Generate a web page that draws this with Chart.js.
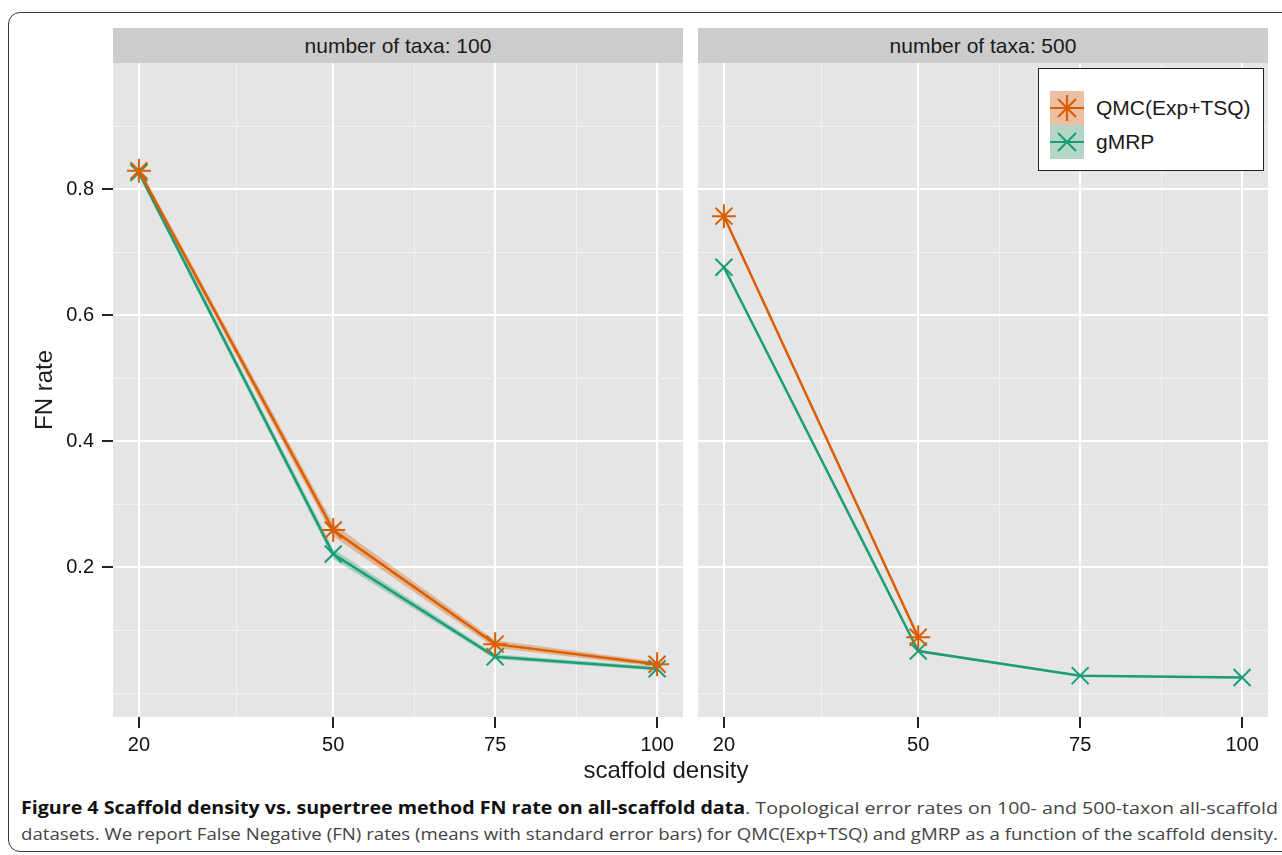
<!DOCTYPE html>
<html>
<head>
<meta charset="utf-8">
<script src="https://cdn.jsdelivr.net/npm/chart.js@4.4.1/dist/chart.umd.min.js"></script>
<style>
  body { margin: 0; width: 1282px; height: 855px; overflow: hidden; position: relative; background: #fff;
         font-family: "Liberation Sans", Arial, sans-serif; color: #1a1a1a; }
  .frame { position: absolute; left: 8px; top: 12px; width: 1300px; height: 838px;
           border: 1.5px solid #3a3a3a; border-radius: 12px; }
  .strip { position: absolute; top: 28px; height: 35px; width: 570px; background: #cccccc;
           font-size: 21px; line-height: 35px; text-align: center; }
  canvas { position: absolute; }
  .ytitle { position: absolute; left: -56px; top: 375px; width: 200px; height: 30px; line-height: 30px;
            text-align: center; font-size: 24px; transform: rotate(-90deg); }
  .xtitle { position: absolute; left: 566px; top: 758px; width: 200px; line-height: 24px;
            text-align: center; font-size: 24px; }
  .legend { position: absolute; left: 1038px; top: 68px; width: 224px; height: 101px;
            border: 1.5px solid #222; background: #fff; }
  .legend .row { position: absolute; left: 11px; height: 34px; font-size: 21px; line-height: 34px; white-space: nowrap; }
  .legend svg { position: absolute; left: 0; top: 0; }
  .legend span { position: absolute; left: 46px; top: 0; }
  .caption { position: absolute; left: 21px; font-family: "Open Sans", sans-serif; font-size: 17px;
             color: #444; white-space: nowrap; transform-origin: 0 0; }
  .caption b { color: #111; }
</style>
</head>
<body>
<div class="frame"></div>

<div class="strip" style="left:113px">number of taxa: 100</div>
<div class="strip" style="left:698px">number of taxa: 500</div>

<canvas id="left" width="683" height="713" style="left:0;top:47px"></canvas>
<canvas id="right" width="570" height="713" style="left:698px;top:47px"></canvas>

<div class="legend">
  <div class="row" style="top:22px">
    <svg width="34" height="34" viewBox="0 0 34 34">
      <rect width="34" height="34" fill="#ecbfa4"/>
      <g stroke="#d95f02" stroke-width="2.2">
        <line x1="0" y1="17" x2="34" y2="17"/>
        <line x1="17" y1="4" x2="17" y2="30"/>
        <line x1="8" y1="8" x2="26" y2="26"/>
        <line x1="8" y1="26" x2="26" y2="8"/>
      </g>
    </svg>
    <span>QMC(Exp+TSQ)</span>
  </div>
  <div class="row" style="top:56px">
    <svg width="34" height="34" viewBox="0 0 34 34">
      <rect width="34" height="34" fill="#b3d6c7"/>
      <g stroke="#1b9e77" stroke-width="2.2">
        <line x1="0" y1="17" x2="34" y2="17"/>
        <line x1="8" y1="8" x2="26" y2="26"/>
        <line x1="8" y1="26" x2="26" y2="8"/>
      </g>
    </svg>
    <span>gMRP</span>
  </div>
</div>

<div class="ytitle">FN rate</div>
<div class="xtitle">scaffold density</div>

<div class="caption" id="cap1" style="top:796px"><b>Figure 4 Scaffold density vs. supertree method FN rate on all-scaffold data</b>. Topological error rates on 100- and 500-taxon all-scaffold</div>
<div class="caption" id="cap2" style="top:822px">datasets. We report False Negative (FN) rates (means with standard error bars) for QMC(Exp+TSQ) and gMRP as a function of the scaffold density.</div>

<script>
// values
const densities = [20, 50, 75, 100];

const qmc100    = [0.829, 0.259, 0.078, 0.046];
const qmc100Se  = [0.006, 0.010, 0.006, 0.004];
const gmrp100   = [0.826, 0.221, 0.058, 0.039];
const gmrp100Se = [0.005, 0.008, 0.004, 0.003];

const qmc500    = [0.757, 0.089, null, null];
const qmc500Se  = [0.003, 0.003, null, null];
const gmrp500   = [0.676, 0.067, 0.028, 0.025];
const gmrp500Se = [0.003, 0.002, 0.0015, 0.0015];

const xMajor = [20, 50, 75, 100];
const xMinor = [35, 62.5, 87.5];
const yMajor = [0.2, 0.4, 0.6, 0.8];
const yMinor = [0, 0.1, 0.3, 0.5, 0.7, 0.9];

const ORANGE = "#d95f02";
const GREEN = "#1b9e77";
const FONT = "'Liberation Sans', Arial, sans-serif";

const panelBg = {
  id: "panelBg",
  beforeDraw(chart) {
    const { ctx, chartArea: a } = chart;
    ctx.save();
    ctx.fillStyle = "#e5e5e5";
    ctx.fillRect(a.left, a.top, a.right - a.left, a.bottom - a.top);
    ctx.restore();
  },
};

const pts = (ys, off, sign) =>
  densities.map((x, i) => ({ x, y: ys[i] == null ? null : ys[i] + (off ? sign * off[i] : 0) }));

function ribbon(ys, se, fillColor) {
  return [
    { data: pts(ys, se, 1), fill: "+1", backgroundColor: fillColor, borderWidth: 0, pointRadius: 0, order: 10 },
    { data: pts(ys, se, -1), fill: false, borderWidth: 0, pointRadius: 0, order: 10 },
  ];
}

function line(ys, color, style, order) {
  return {
    data: pts(ys), borderColor: color, borderWidth: 2.5, fill: false,
    pointStyle: style, pointRadius: 12, pointBorderWidth: 2, pointBorderColor: color,
    pointBackgroundColor: color, spanGaps: false, order,
  };
}

function makePanel(id, qmc, qmcSe, gmrp, gmrpSe, showY) {
  const isMajorX = v => xMajor.includes(v);
  const isMajorY = v => yMajor.includes(v);
  return new Chart(document.getElementById(id), {
    type: "line",
    data: {
      datasets: [
        ...ribbon(qmc, qmcSe, "rgba(217,95,2,0.35)"),
        ...ribbon(gmrp, gmrpSe, "rgba(27,158,119,0.32)"),
        line(gmrp, GREEN, "crossRot", 2),
        line(qmc, ORANGE, "star", 1),
      ],
    },
    options: {
      responsive: false,
      animation: false,
      devicePixelRatio: 1,
      layout: { autoPadding: false, padding: { top: 16, left: 0, right: 0, bottom: 0 } },
      plugins: { legend: { display: false }, tooltip: { enabled: false } },
      scales: {
        x: {
          type: "linear", min: 16, max: 104,
          afterBuildTicks: ax => { ax.ticks = [...xMajor, ...xMinor].sort((a, b) => a - b).map(v => ({ value: v })); },
          afterFit: s => { s.height = 43; s.paddingLeft = 0; s.paddingRight = 0; },
          border: { display: false },
          grid: {
            color: c => isMajorX(c.tick.value) ? "#ffffff" : "#f2f2f2",
            lineWidth: c => isMajorX(c.tick.value) ? 2 : 1,
            tickLength: 11,
            tickWidth: 2,
            tickColor: c => isMajorX(c.tick.value) ? "#222" : "rgba(0,0,0,0)",
          },
          ticks: {
            autoSkip: false, maxRotation: 0, padding: 5, color: "#111",
            font: { family: FONT, size: 20 },
            callback: v => isMajorX(v) ? String(v) : "",
          },
        },
        y: {
          type: "linear", min: -0.0376, max: 1.0,
          afterBuildTicks: ax => { ax.ticks = [...yMinor, ...yMajor].sort((a, b) => a - b).map(v => ({ value: v })); },
          afterFit: s => { s.width = showY ? 113 : 0; s.paddingTop = 0; s.paddingBottom = 0; },
          border: { display: false },
          grid: {
            color: c => isMajorY(c.tick.value) ? "#ffffff" : "#f2f2f2",
            lineWidth: c => isMajorY(c.tick.value) ? 2 : 1,
            drawTicks: showY,
            tickLength: 11,
            tickWidth: 2,
            tickColor: c => isMajorY(c.tick.value) ? "#222" : "rgba(0,0,0,0)",
          },
          ticks: {
            display: showY, autoSkip: false, padding: 8, color: "#111",
            font: { family: FONT, size: 20 },
            callback: v => isMajorY(v) ? v.toFixed(1) : "",
          },
        },
      },
    },
    plugins: [panelBg],
  });
}

makePanel("left", qmc100, qmc100Se, gmrp100, gmrp100Se, true);
makePanel("right", qmc500, qmc500Se, gmrp500, gmrp500Se, false);

// stretch each caption line to the figure width
["cap1", "cap2"].forEach(id => {
  const el = document.getElementById(id);
  el.style.transform = `scaleX(${1257 / el.getBoundingClientRect().width})`;
});
</script>
</body>
</html>
